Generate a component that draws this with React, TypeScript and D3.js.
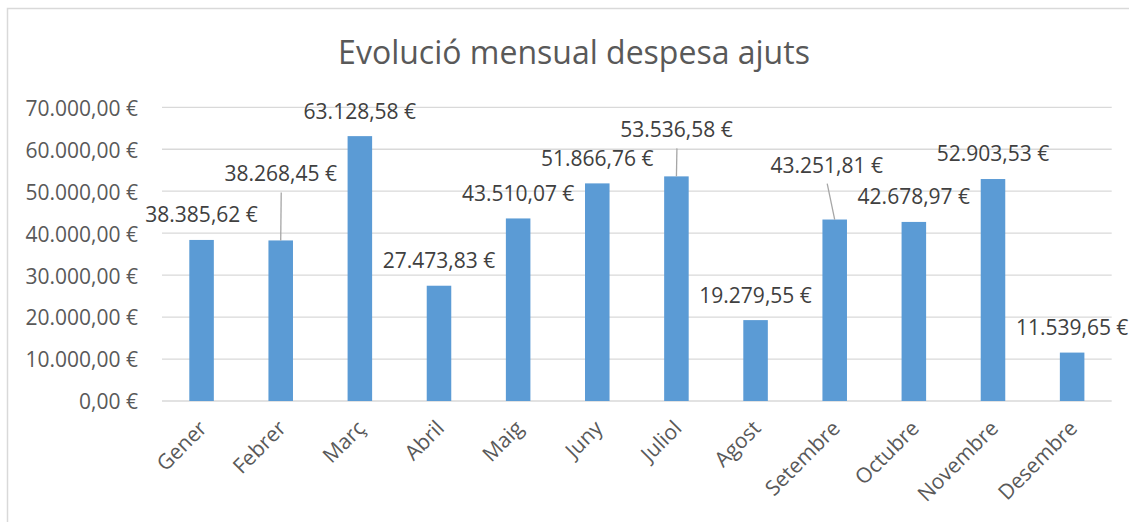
import React from "react";
import * as d3 from "d3";

const months = ["Gener","Febrer","Març","Abril","Maig","Juny","Juliol","Agost","Setembre","Octubre","Novembre","Desembre"];
const spending = [38385.62,38268.45,63128.58,27473.83,43510.07,51866.76,53536.58,19279.55,43251.81,42678.97,52903.53,11539.65];
const yTicks = [0,10000,20000,30000,40000,50000,60000,70000];
const title = "Evolució mensual despesa ajuts";
// manually moved labels (with leader lines): [month, dx, dy of label baseline relative to bar top]
const movedLabels: [string, number, number][] = [["Febrer", 0, -59], ["Juliol", 0, -39], ["Setembre", -8, -47]];

const W = 1129, H = 522;
const left = 162, right = 1111.7, top = 107.3, bottom = 401;
const FONT = "'Open Sans', sans-serif";

const locale = d3.formatLocale({ decimal: ",", thousands: ".", grouping: [3], currency: ["", " €"] });
const fmt = locale.format("$,.2f");

export default function App() {
  const x = d3.scaleBand<string>().domain(months).range([left, right]).paddingInner(0.69).paddingOuter(0.345);
  const y = d3.scaleLinear().domain([0, 70000]).range([bottom, top]);
  const bw = x.bandwidth();
  return (
    <svg width={W} height={H} style={{ position: "absolute", left: 0, top: 0, background: "#fff" }} fontFamily={FONT}>
      <rect x={7.5} y={8.5} width={W + 20} height={H + 20} fill="#fff" stroke="#d9d9d9" strokeWidth={1.5} />
      <text x={574} y={63.5} textAnchor="middle" fontSize={32} fill="#595959">{title}</text>
      {yTicks.map((t) => (
        <g key={t}>
          <line x1={left} x2={right} y1={y(t)} y2={y(t)} stroke="#d9d9d9" strokeWidth={1.3} />
          <text x={138} y={y(t)} dy="0.4em" textAnchor="end" fontSize={21} fill="#595959">{fmt(t)}</text>
        </g>
      ))}
      {months.map((m, i) => {
        const v = spending[i];
        const cx = (x(m) as number) + bw / 2;
        const yt = y(v);
        const mv = movedLabels.find((d) => d[0] === m);
        const lx = cx + (mv ? mv[1] : 0);
        const ly = yt + (mv ? mv[2] : -17.6);
        return (
          <g key={m}>
            <rect x={x(m)} y={yt} width={bw} height={bottom - yt} fill="#5b9bd5" />
            {mv && <line x1={lx + 0.5} y1={ly + 11} x2={cx} y2={yt} stroke="#a6a6a6" strokeWidth={1.3} />}
            <text x={lx} y={ly} textAnchor="middle" fontSize={21} fill="#404040">{fmt(v)}</text>
            <text transform={`translate(${cx - 4},${419}) rotate(-45)`} dy="0.71em" textAnchor="end" fontSize={21} fill="#595959">{m}</text>
          </g>
        );
      })}
    </svg>
  );
}
